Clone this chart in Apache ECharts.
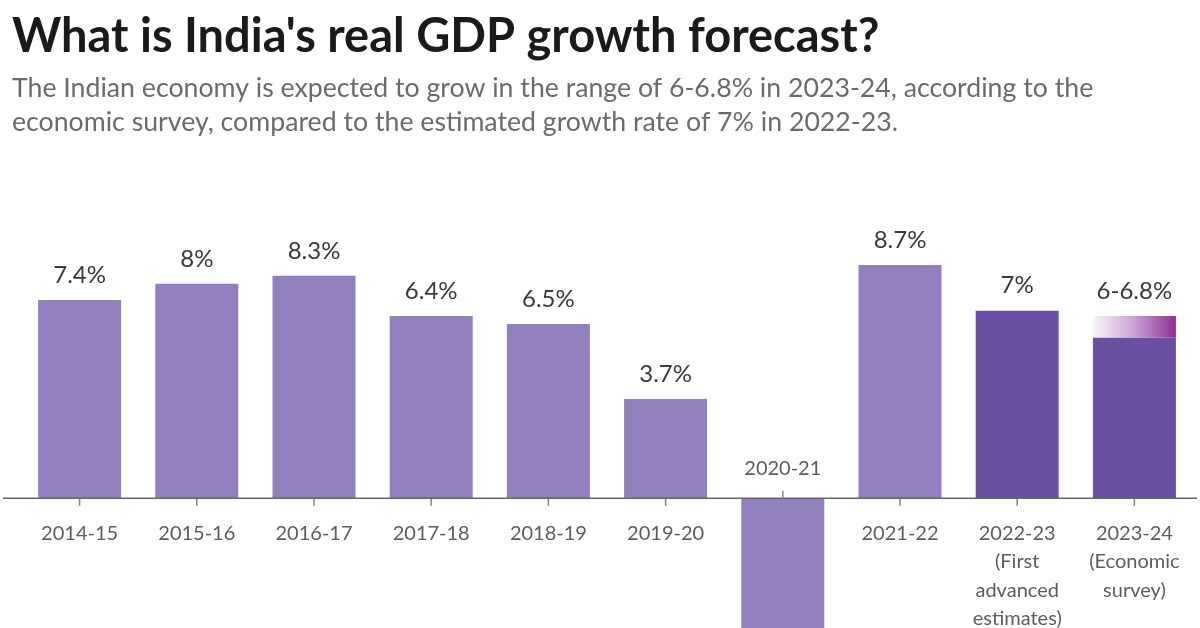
<!DOCTYPE html>
<html>
<head>
<meta charset="utf-8">
<script src="https://cdn.jsdelivr.net/npm/echarts@6/dist/echarts.min.js"></script>
<style>
html,body{margin:0;padding:0;background:#fff;}
#chart{width:1200px;height:628px;}
</style>
</head>
<body>
<div id="chart"></div>
<script>
const categories = ['2014-15','2015-16','2016-17','2017-18','2018-19','2019-20','2020-21','2021-22','2022-23\n(First\nadvanced\nestimates)','2023-24\n(Economic\nsurvey)'];
const values = [7.4, 8.0, 8.3, 6.8, 6.5, 3.7, -6.6, 8.7, 7.0, 6.0];
const valueLabels = ['7.4%','8%','8.3%','6.4%','6.5%','3.7%','','8.7%','7%','6-6.8%'];
const rangeExtra = [null, null, null, null, null, null, null, null, null, 0.8];
const darkIndex = [8, 9];
const aboveAxisIndex = 6;

const LIGHT = '#9180bd';
const DARK = '#6a4fa2';
const FONT = 'Lato';

const chart = echarts.init(document.getElementById('chart'));

const baseData = values.map((v, i) => ({
  value: v,
  itemStyle: { color: darkIndex.includes(i) ? DARK : LIGHT },
  label: { show: rangeExtra[i] == null && valueLabels[i] !== '' }
}));

const rangeData = rangeExtra.map(v => v);

const belowAxisData = categories.map((c, i) => i === aboveAxisIndex ? null : 0);
const aboveAxisData = categories.map((c, i) => i === aboveAxisIndex ? 0 : null);

const catLabelStyle = { fontFamily: FONT, fontSize: 20, color: '#333', lineHeight: 28.5 };
const valLabelStyle = { fontFamily: FONT, fontSize: 24, color: '#3a3a3a' };

chart.setOption({
  animation: false,
  backgroundColor: '#fff',
  title: {
    text: "What is India's real GDP growth forecast?",
    subtext: 'The Indian economy is expected to grow in the range of 6-6.8% in 2023-24, according to the\neconomic survey, compared to the estimated growth rate of 7% in 2022-23.',
    left: 7,
    top: 8,
    itemGap: 11,
    textStyle: { fontFamily: FONT, fontWeight: 'bold', fontSize: 47, color: '#1a1a1a' },
    subtextStyle: { fontFamily: FONT, fontSize: 26.7, color: '#6b6b6b', lineHeight: 34 }
  },
  grid: { left: 21, width: 1172, top: 257, height: 429, containLabel: false, outerBoundsMode: 'none' },
  xAxis: {
    type: 'category',
    data: categories,
    axisLine: { show: false },
    axisTick: { show: false },
    axisLabel: { show: false }
  },
  yAxis: { type: 'value', min: -7, max: 9, show: false, splitLine: { show: false } },
  series: [
    {
      type: 'bar',
      stack: 'g',
      data: baseData,
      barWidth: 83,
      label: Object.assign({
        position: 'top', distance: 13,
        formatter: p => valueLabels[p.dataIndex]
      }, valLabelStyle)
    },
    {
      type: 'bar',
      stack: 'g',
      data: rangeData,
      barWidth: 83,
      itemStyle: {
        color: new echarts.graphic.LinearGradient(0, 0, 1, 0, [
          { offset: 0, color: '#fbf6fc' },
          { offset: 0.5, color: '#c9a2d3' },
          { offset: 1, color: '#8b2f92' }
        ])
      },
      label: Object.assign({
        show: true, position: 'top', distance: 13,
        formatter: p => valueLabels[p.dataIndex]
      }, valLabelStyle)
    },
    {
      type: 'scatter',
      data: belowAxisData,
      symbol: 'rect',
      symbolSize: [1.5, 7],
      symbolOffset: [0, 4],
      itemStyle: { color: '#666' },
      z: 5,
      silent: true,
      label: Object.assign({
        show: true, position: 'bottom', distance: 13,
        formatter: p => categories[p.dataIndex]
      }, catLabelStyle)
    },
    {
      type: 'scatter',
      data: aboveAxisData,
      symbol: 'rect',
      symbolSize: [1.5, 7],
      symbolOffset: [0, -4],
      itemStyle: { color: '#666' },
      z: 5,
      silent: true,
      label: Object.assign({
        show: true, position: 'top', distance: 8,
        formatter: p => categories[p.dataIndex]
      }, catLabelStyle)
    }
  ]
});

// zero baseline across the full width, positioned via the value scale
const zeroY = chart.convertToPixel({ yAxisIndex: 0 }, 0);
chart.setOption({
  graphic: [{
    type: 'line',
    shape: { x1: 3, y1: zeroY, x2: 1197, y2: zeroY },
    style: { stroke: '#666', lineWidth: 1.5 },
    z: 10,
    silent: true
  }]
});
</script>
</body>
</html>
